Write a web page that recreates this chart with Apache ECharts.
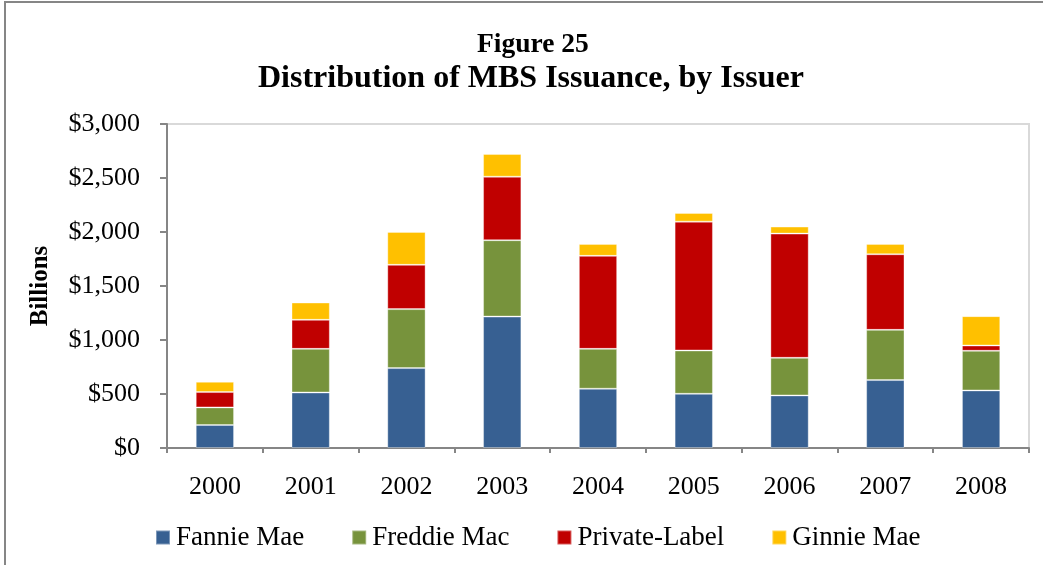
<!DOCTYPE html>
<html>
<head>
<meta charset="utf-8">
<script src="https://cdn.jsdelivr.net/npm/echarts@6/dist/echarts.min.js"></script>
<style>
  html, body { margin: 0; padding: 0; background: #fff; }
  #chart { width: 1043px; height: 565px; }
</style>
</head>
<body>
<div id="chart"></div>
<script>
// values in billions of dollars
const years = ['2000', '2001', '2002', '2003', '2004', '2005', '2006', '2007', '2008'];
const fannieMae = [213, 514, 740, 1217, 549, 502, 487, 629, 533];
const freddieMac = [163, 404, 546, 707, 369, 401, 348, 465, 367];
const privateLabel = [142, 269, 410, 588, 861, 1193, 1150, 700, 49];
const ginnieMae = [95, 160, 305, 210, 111, 80, 65, 96, 272];

const seriesNames = ['Fannie Mae', 'Freddie Mac', 'Private-Label', 'Ginnie Mae'];
const seriesColors = ['#376092', '#77933C', '#C00000', '#FFC000'];
const seriesData = [fannieMae, freddieMac, privateLabel, ginnieMae];

const serif = '"Liberation Serif", "DejaVu Serif", serif';
const axisGray = '#868686';

const chart = echarts.init(document.getElementById('chart'), null, { renderer: 'canvas' });

const option = {
  backgroundColor: '#fff',
  animation: false,
  textStyle: { fontFamily: serif },
  title: [{
    text: 'Figure 25',
    left: 472,
    top: 26,
    textStyle: { fontFamily: serif, fontSize: 27.5, fontWeight: 'bold', color: '#000' }
  }, {
    text: 'Distribution of MBS Issuance, by Issuer',
    left: 253,
    top: 58,
    textStyle: { fontFamily: serif, fontSize: 32, fontWeight: 'bold', color: '#000' }
  }],
  graphic: [{
    type: 'rect',
    shape: { x: 5, y: 2, width: 1060, height: 600 },
    style: { fill: 'none', stroke: axisGray, lineWidth: 2 },
    silent: true
  }],
  legend: {
    left: 150,
    top: 519,
    itemWidth: 14,
    itemHeight: 14,
    itemGap: 47,
    icon: 'rect',
    textStyle: { fontFamily: serif, fontSize: 27, color: '#000', padding: [0, 0, 0, 1] },
    data: seriesNames
  },
  grid: {
    left: 167,
    right: 14,
    top: 124,
    bottom: 117,
    show: true,
    borderColor: '#d9d9d9',
    borderWidth: 2,
    containLabel: false
  },
  xAxis: {
    type: 'category',
    data: years,
    axisLine: { lineStyle: { color: axisGray, width: 2 } },
    axisTick: { show: true, inside: false, length: 5, lineStyle: { color: axisGray, width: 2 } },
    axisLabel: { fontFamily: serif, fontSize: 26, color: '#000', margin: 26 }
  },
  yAxis: {
    type: 'value',
    min: 0,
    max: 3000,
    interval: 500,
    name: 'Billions',
    nameLocation: 'middle',
    nameGap: 114,
    nameRotate: 90,
    nameTextStyle: { fontFamily: serif, fontSize: 25, fontWeight: 'bold', color: '#000' },
    axisLine: { show: true, lineStyle: { color: axisGray, width: 2 } },
    axisTick: { show: true, inside: false, length: 7, lineStyle: { color: axisGray, width: 2 } },
    splitLine: { show: false },
    axisLabel: {
      fontFamily: serif,
      fontSize: 26,
      color: '#000',
      margin: 27,
      formatter: v => '$' + v.toLocaleString('en-US')
    }
  },
  series: seriesNames.map((name, i) => ({
    name: name,
    type: 'bar',
    stack: 'issuance',
    barWidth: '40%',
    data: seriesData[i],
    itemStyle: { color: seriesColors[i], borderColor: 'rgba(255,255,255,0.35)', borderWidth: 1 },
    emphasis: { disabled: true }
  }))
};

chart.setOption(option);
</script>
</body>
</html>
